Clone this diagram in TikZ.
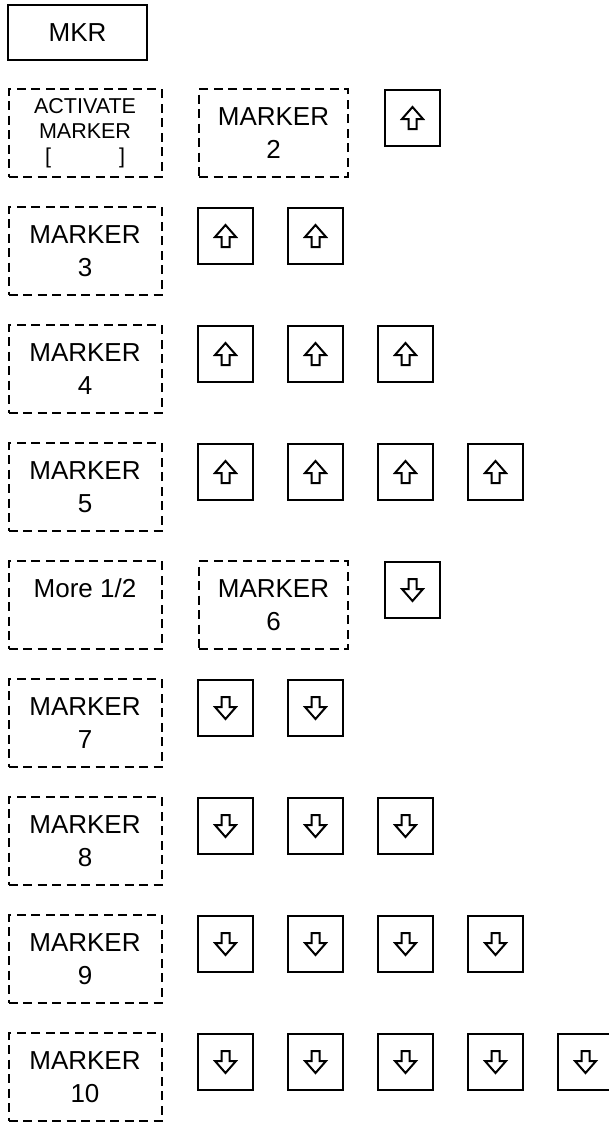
\documentclass[tikz,border=0pt]{standalone}
\usepackage{fontspec}
\setmainfont{Liberation Sans}
\tikzset{
  hardkey/.style={draw, line width=2pt, minimum width=139pt, minimum height=55pt, inner sep=0pt,
    font=\fontsize{26}{33}\selectfont},
  softkey/.style={draw, line width=2pt, dash pattern=on 9pt off 5.5pt, minimum width=153pt,
    minimum height=88pt, inner sep=0pt, align=center, font=\fontsize{26}{33}\selectfont},
  softkeytwo/.style={softkey, minimum width=149pt},
  arrowkey/.style={draw, line width=2.2pt, minimum width=55pt, minimum height=56pt, inner sep=0pt},
  arrowline/.style={line width=2pt, line join=miter},
  uparr/.pic={\draw[arrowline] (0,-11) -- (10.5,1) -- (4,1) -- (4,11) -- (-4,11) -- (-4,1) -- (-10.5,1) -- cycle;},
  downarr/.pic={\draw[arrowline] (0,11) -- (10.5,-1) -- (4,-1) -- (4,-11) -- (-4,-11) -- (-4,-1) -- (-10.5,-1) -- cycle;}
}
\begin{document}
\begin{tikzpicture}[x=1pt,y=-1pt]
\useasboundingbox (0,0) rectangle (609,1122);
% MKR hard key
\node[hardkey] (mkr) at (77.5,32.5) {MKR};
% row 2
\node[softkey, font=\fontsize{21.5}{25}\selectfont] (act) at (85,133) {ACTIVATE\\MARKER\\{[}\hspace{68pt}{]}};
\node[softkeytwo] (m2) at (273.5,133) {MARKER\\2};
\node[arrowkey] (k2-1) at (412.5,118) {};
\pic at (k2-1) {uparr};
% rows 3-5
\foreach \r/\n in {3/2,4/3,5/4} {
  \pgfmathsetmacro\ty{89+(\r-2)*118}
  \node[softkey] (m\r) at (85,\ty+44) {MARKER\\\r};
  \foreach \c in {1,...,\n} {
    \node[arrowkey] (k\r-\c) at ({225.5+90*(\c-1)},\ty+29) {};
    \pic at (k\r-\c) {uparr};
  }
}
% row 6
\node[softkey] (more) at (85,{89+4*118+44}) {More 1/2\\\phantom{6}};
\node[softkeytwo] (m6) at (273.5,{89+4*118+44}) {MARKER\\6};
\node[arrowkey] (k6-1) at (412.5,{89+4*118+29}) {};
\pic at (k6-1) {downarr};
% rows 7-10
\foreach \r/\n in {7/2,8/3,9/4,10/5} {
  \pgfmathsetmacro\ty{89+(\r-2)*118}
  \node[softkey] (m\r) at (85,\ty+44) {MARKER\\\r};
  \foreach \c in {1,...,\n} {
    \node[arrowkey] (k\r-\c) at ({225.5+90*(\c-1)},\ty+29) {};
    \pic at (k\r-\c) {downarr};
  }
}
\end{tikzpicture}
\end{document}
